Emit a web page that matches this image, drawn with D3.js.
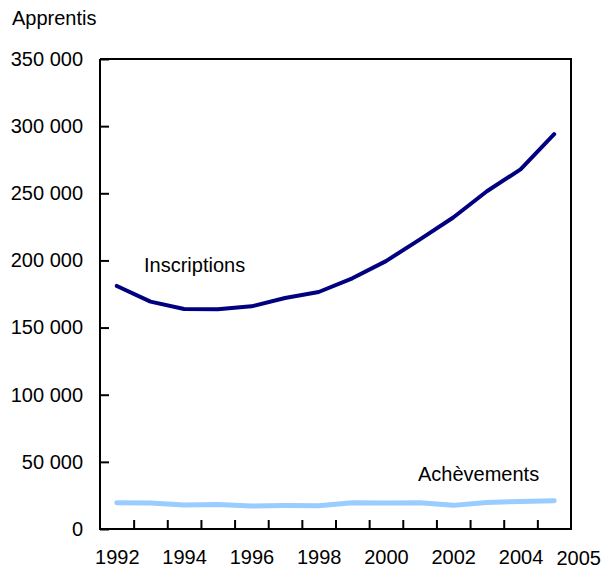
<!DOCTYPE html>
<html>
<head>
<meta charset="utf-8">
<script src="https://cdn.jsdelivr.net/npm/d3@7"></script>
<style>
  html, body { margin: 0; padding: 0; background: #fff; }
  svg text { font-family: "Liberation Sans", Arial, Helvetica, sans-serif; fill: #000; }
</style>
</head>
<body>
<svg id="chart" width="608" height="569"></svg>
<script>
const years = [1992,1993,1994,1995,1996,1997,1998,1999,2000,2001,2002,2003,2004,2005];
const inscriptions = [181000,169300,163800,163600,165800,172000,176500,186700,199500,215500,232000,251500,267800,294000];
const achevements = [19500,19300,17900,18300,17100,17500,17400,19500,19400,19500,17600,19800,20500,21000];
const yTicks = [0,50000,100000,150000,200000,250000,300000,350000];
const xLabelYears = [1992,1994,1996,1998,2000,2002,2004,2005];
const yTitle = "Apprentis";
const seriesNames = ["Inscriptions", "Achèvements"];

const svg = d3.select("#chart");
const L = 100, R = 571, T = 59, B = 529;
const fs = 20;

const x = d3.scaleLinear().domain([years[0] - 0.5, years[years.length-1] + 0.5]).range([L, R]);
const y = d3.scaleLinear().domain([0, 350000]).range([B, T]);

const fmt = d => d === 0 ? "0" : d3.format(",")(d).replace(/,/g, " ");

// Y axis
const yAxis = svg.append("g").attr("transform", `translate(${L},0)`)
  .call(d3.axisLeft(y).tickValues(yTicks).tickFormat(fmt).tickSizeInner(-9).tickSizeOuter(0).tickPadding(17));
yAxis.select(".domain").remove();
yAxis.selectAll(".tick line").attr("stroke", "#000").attr("stroke-width", 2);
yAxis.selectAll("text").style("font-size", fs + "px");

// X ticks at band boundaries
const boundaries = years.slice(0, -1).map(v => v + 0.5);
const xTicks = svg.append("g").attr("transform", `translate(0,${B})`)
  .call(d3.axisBottom(x).tickValues(boundaries).tickFormat("").tickSizeInner(-9).tickSizeOuter(0));
xTicks.select(".domain").remove();
xTicks.selectAll(".tick line").attr("stroke", "#000").attr("stroke-width", 2);

// X labels
const xLab = svg.append("g").attr("transform", `translate(0,${B})`)
  .call(d3.axisBottom(x).tickValues(xLabelYears).tickFormat(d3.format("d")).tickSize(0).tickPadding(21));
xLab.select(".domain").remove();
xLab.selectAll("text").style("font-size", fs + "px");
xLab.selectAll(".tick").filter(d => d === 2005).select("text").attr("dx", 24).attr("y", 22);

// Frame
svg.append("path")
  .attr("d", `M${L},${T}V${B}H${R}V${T}H${L}`)
  .attr("fill", "none").attr("stroke", "#000").attr("stroke-width", 2);

// Lines
const line = d3.line().x((d, i) => x(years[i])).y(d => y(d));
svg.append("path").datum(achevements).attr("d", line)
  .attr("fill", "none").attr("stroke", "#99ccff").attr("stroke-width", 5)
  .attr("stroke-linecap", "round").attr("stroke-linejoin", "round");
svg.append("path").datum(inscriptions).attr("d", line)
  .attr("fill", "none").attr("stroke", "#000080").attr("stroke-width", 4)
  .attr("stroke-linecap", "round").attr("stroke-linejoin", "round");

// Labels
svg.append("text").attr("x", 12).attr("y", 25).style("font-size", fs + "px").text(yTitle);
svg.append("text").attr("x", 144).attr("y", 272).style("font-size", fs + "px").text(seriesNames[0]);
svg.append("text").attr("x", 418).attr("y", 481).style("font-size", fs + "px").text(seriesNames[1]);
</script>
</body>
</html>
